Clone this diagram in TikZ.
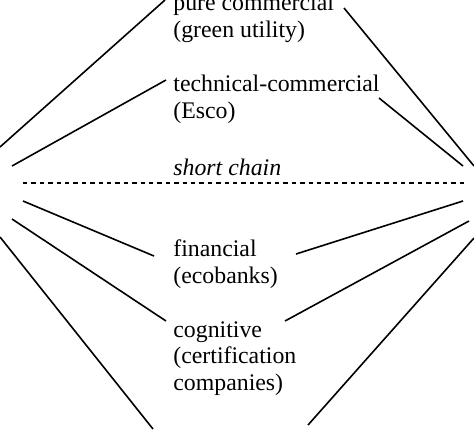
\documentclass[tikz,border=0pt]{standalone}
\usepackage{fontspec}
\setmainfont{Liberation Serif}
\usepackage{tikz}
\usetikzlibrary{positioning}
\tikzset{
    lbl/.style={
        anchor=base west,
        inner sep=0pt,
        align=left,
        font=\fontsize{11.9pt}{13.2pt}\selectfont
    },
    spoke/.style={
        line width=0.8pt,
        black
    },
    chainline/.style={
        line width=0.7pt,
        dash pattern=on 2.2pt off 2pt
    }
}

\begin{document}
\begin{tikzpicture}[x=0.5pt, y=-0.5pt]
        \useasboundingbox (0,0) rectangle (474,429);

        % Labels (placed at the baseline of their last line)
        \node[lbl] (pure) at (173,37) {pure commercial\\(green utility)};
        \node[lbl] (tech) at (173,118) {technical-commercial\\(Esco)};
        \node[lbl, font=\fontsize{11.9pt}{13.2pt}\selectfont\itshape] (short) at (173,175) {short chain};
        \node[lbl] (fin) at (173,283) {financial\\(ecobanks)};
        \node[lbl] (cog) at (173,390) {cognitive\\(certification\\companies)};

        % Line ends
        \coordinate (l1) at (0,147);   \coordinate (p1) at (165,0);
        \coordinate (l2) at (12,166);  \coordinate (p2) at (166,80);
        \coordinate (l3) at (23,201);  \coordinate (p3) at (154,256);
        \coordinate (l4) at (12,219);  \coordinate (p4) at (166,321);
        \coordinate (l5) at (0,237);   \coordinate (p5) at (153,429);
        \coordinate (r1) at (474,166); \coordinate (q1) at (344,8);
        \coordinate (r2) at (463,166); \coordinate (q2) at (379,98);
        \coordinate (r3) at (463,201); \coordinate (q3) at (296,254);
        \coordinate (r4) at (469,221); \coordinate (q4) at (285,321);
        \coordinate (r5) at (474,238); \coordinate (q5) at (308,425);
        \coordinate (dl) at (23,183);  \coordinate (dr) at (464,183);

        % Spokes
        \foreach \i in {1,...,5} {
            \draw[spoke] (l\i) -- (p\i);
            \draw[spoke] (r\i) -- (q\i);
        }

        % Dashed divider
        \draw[chainline] (dl) -- (dr);
    \end{tikzpicture}
\end{document}
